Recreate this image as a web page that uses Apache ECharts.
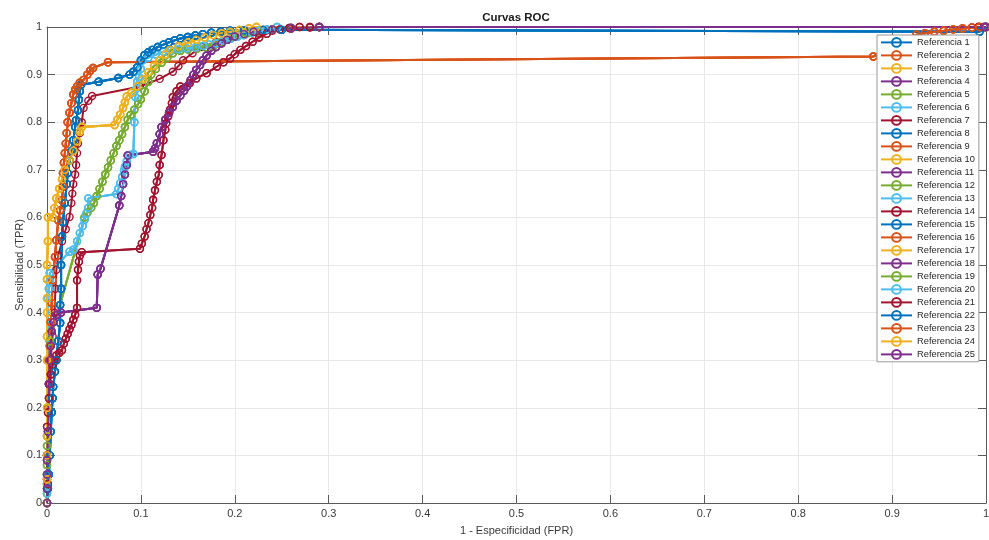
<!DOCTYPE html>
<html>
<head>
<meta charset="utf-8">
<title>Curvas ROC</title>
<script src="https://cdn.jsdelivr.net/npm/echarts@6/dist/echarts.min.js"></script>
<style>
  html, body { margin: 0; padding: 0; background: #fff; }
  #chart { width: 989px; height: 540px; }
</style>
</head>
<body>
<div id="chart"></div>
<script>
// ROC curves: [FPR, TPR]
const rocBlue = [
    [0, 0], [0.001, 0.03], [0.002, 0.06], [0.003, 0.1], [0.004, 0.15], [0.005, 0.19], [0.006, 0.22],
    [0.0066, 0.244], [0.0085, 0.276], [0.01, 0.3], [0.012, 0.34], [0.014, 0.378], [0.014, 0.416],
    [0.015, 0.45], [0.015, 0.5], [0.016, 0.56], [0.017, 0.59], [0.019, 0.63], [0.021, 0.67],
    [0.022, 0.693], [0.024, 0.72], [0.026, 0.74], [0.028, 0.762], [0.03, 0.79], [0.031, 0.804],
    [0.033, 0.825], [0.034, 0.847], [0.035, 0.865], [0.036, 0.878], [0.055, 0.885], [0.076, 0.893],
    [0.088, 0.9], [0.092, 0.906], [0.096, 0.915], [0.1, 0.93], [0.104, 0.941], [0.108, 0.947],
    [0.112, 0.952], [0.118, 0.958], [0.124, 0.963], [0.13, 0.968], [0.136, 0.972], [0.142, 0.976],
    [0.15, 0.979], [0.158, 0.982], [0.166, 0.985], [0.175, 0.988], [0.185, 0.99], [0.195, 0.992],
    [0.21, 0.993], [0.23, 0.994], [0.25, 0.994], [0.993, 0.99], [1, 1]
];
const rocOrange = [
    [0, 0], [0, 0.05], [0, 0.1], [0.001, 0.2], [0.002, 0.3], [0.003, 0.33], [0.004, 0.38], [0.005, 0.42],
    [0.006, 0.468], [0.0085, 0.517], [0.01, 0.552], [0.012, 0.594], [0.014, 0.615], [0.016, 0.636],
    [0.017, 0.665], [0.017, 0.693], [0.018, 0.715], [0.019, 0.735], [0.02, 0.755], [0.021, 0.777],
    [0.022, 0.8], [0.024, 0.82], [0.026, 0.84], [0.028, 0.858], [0.03, 0.868], [0.032, 0.875],
    [0.035, 0.883], [0.039, 0.889], [0.043, 0.9], [0.046, 0.908], [0.049, 0.914], [0.065, 0.926],
    [0.88, 0.938], [0.926, 0.984], [0.935, 0.987], [0.945, 0.99], [0.955, 0.992], [0.965, 0.995],
    [0.975, 0.997], [0.985, 0.999], [0.993, 1], [1, 1]
];
const rocYellow = [
    [0, 0], [0, 0.05], [0, 0.1], [0, 0.14], [0, 0.2], [0, 0.3], [0, 0.35], [0, 0.4], [0, 0.43],
    [0, 0.47], [0, 0.5], [0.001, 0.55], [0.001, 0.6], [0.006, 0.6], [0.008, 0.62], [0.01, 0.64],
    [0.013, 0.66], [0.016, 0.68], [0.019, 0.7], [0.024, 0.72], [0.028, 0.74], [0.032, 0.76],
    [0.035, 0.78], [0.037, 0.79], [0.072, 0.794], [0.075, 0.805], [0.078, 0.816], [0.081, 0.83],
    [0.083, 0.842], [0.085, 0.854], [0.09, 0.862], [0.096, 0.875], [0.102, 0.89], [0.108, 0.905],
    [0.114, 0.918], [0.12, 0.93], [0.126, 0.942], [0.131, 0.952], [0.14, 0.96], [0.15, 0.967],
    [0.159, 0.973], [0.168, 0.978], [0.177, 0.983], [0.186, 0.987], [0.195, 0.99], [0.205, 0.994],
    [0.215, 0.997], [0.223, 1], [1, 1]
];
const rocPurple = [
    [0, 0], [0, 0.03], [0, 0.06], [0, 0.09], [0.001, 0.15], [0.002, 0.25], [0.003, 0.3], [0.004, 0.33],
    [0.005, 0.36], [0.007, 0.38], [0.01, 0.395], [0.015, 0.4], [0.053, 0.41], [0.054, 0.48],
    [0.057, 0.492], [0.077, 0.625], [0.079, 0.645], [0.081, 0.67], [0.083, 0.69], [0.085, 0.71],
    [0.086, 0.73], [0.113, 0.738], [0.115, 0.745], [0.117, 0.756], [0.12, 0.775], [0.122, 0.79],
    [0.126, 0.805], [0.13, 0.82], [0.134, 0.832], [0.138, 0.845], [0.142, 0.856], [0.146, 0.866],
    [0.149, 0.875], [0.153, 0.888], [0.156, 0.9], [0.159, 0.91], [0.163, 0.92], [0.166, 0.93],
    [0.17, 0.94], [0.175, 0.95], [0.18, 0.958], [0.186, 0.966], [0.192, 0.973], [0.2, 0.98],
    [0.21, 0.985], [0.22, 0.99], [0.24, 0.995], [0.26, 0.998], [0.29, 1], [0.998, 1], [1, 1]
];
const rocGreen = [
    [0, 0], [0, 0.02], [0, 0.04], [0, 0.06], [0, 0.08], [0, 0.1], [0, 0.12], [0, 0.14], [0.002, 0.3],
    [0.003, 0.34], [0.04, 0.6], [0.043, 0.61], [0.047, 0.62], [0.05, 0.63], [0.053, 0.645],
    [0.056, 0.66], [0.059, 0.675], [0.062, 0.69], [0.065, 0.705], [0.068, 0.72], [0.071, 0.735],
    [0.074, 0.75], [0.077, 0.762], [0.08, 0.775], [0.083, 0.79], [0.086, 0.805], [0.089, 0.815],
    [0.093, 0.826], [0.097, 0.838], [0.1, 0.848], [0.104, 0.865], [0.108, 0.885], [0.111, 0.9],
    [0.116, 0.912], [0.122, 0.925], [0.128, 0.935], [0.134, 0.945], [0.142, 0.95], [0.15, 0.953],
    [0.16, 0.955], [0.17, 0.957], [0.177, 0.96], [0.185, 0.968], [0.195, 0.977], [0.205, 0.983],
    [0.213, 0.987], [0.225, 0.991], [0.24, 0.995], [0.26, 0.998], [0.29, 1], [1, 1]
];
const rocCyan = [
    [0, 0], [0, 0.02], [0, 0.04], [0, 0.06], [0.001, 0.2], [0.001, 0.43], [0.002, 0.45], [0.003, 0.465],
    [0.003, 0.483], [0.024, 0.528], [0.028, 0.532], [0.032, 0.55], [0.035, 0.567], [0.038, 0.582],
    [0.04, 0.595], [0.042, 0.608], [0.044, 0.62], [0.044, 0.64], [0.074, 0.649], [0.076, 0.66],
    [0.078, 0.672], [0.08, 0.685], [0.082, 0.698], [0.083, 0.706], [0.085, 0.718], [0.088, 0.731],
    [0.092, 0.733], [0.093, 0.8], [0.094, 0.853], [0.095, 0.87], [0.096, 0.885], [0.098, 0.895],
    [0.1, 0.912], [0.102, 0.93], [0.108, 0.936], [0.116, 0.942], [0.124, 0.948], [0.132, 0.951],
    [0.14, 0.953], [0.149, 0.955], [0.158, 0.957], [0.166, 0.96], [0.173, 0.963], [0.18, 0.966],
    [0.188, 0.971], [0.196, 0.976], [0.203, 0.98], [0.209, 0.983], [0.218, 0.988], [0.226, 0.992],
    [0.234, 0.995], [0.245, 1], [1, 1]
];
const rocRedLeft = [
    [0, 0], [0, 0.05], [0.001, 0.15], [0.002, 0.25], [0.004, 0.3], [0.006, 0.35], [0.008, 0.4],
    [0.009, 0.45], [0.01, 0.49], [0.012, 0.52], [0.016, 0.55], [0.02, 0.575], [0.024, 0.601],
    [0.026, 0.63], [0.027, 0.65], [0.028, 0.67], [0.03, 0.69], [0.031, 0.71], [0.032, 0.735],
    [0.033, 0.755], [0.035, 0.777], [0.037, 0.8], [0.039, 0.83], [0.044, 0.845], [0.048, 0.855],
    [0.099, 0.875], [0.12, 0.891], [0.134, 0.906], [0.14, 0.918], [0.145, 0.93], [0.155, 0.945],
    [0.165, 0.958], [0.18, 0.968], [0.195, 0.976], [0.21, 0.983], [0.225, 0.988], [0.24, 0.992],
    [0.26, 0.996], [0.28, 0.999], [0.29, 1], [0.992, 1], [1, 1]
];
const rocRedRight = [
    [0, 0], [0.001, 0.04], [0, 0.1], [0, 0.16], [0.001, 0.19], [0.002, 0.22], [0.003, 0.25],
    [0.004, 0.27], [0.006, 0.29], [0.008, 0.3], [0.01, 0.31], [0.013, 0.315], [0.016, 0.321],
    [0.018, 0.335], [0.02, 0.345], [0.022, 0.355], [0.024, 0.365], [0.026, 0.374], [0.028, 0.385],
    [0.03, 0.395], [0.032, 0.41], [0.032, 0.468], [0.033, 0.49], [0.034, 0.507], [0.035, 0.52],
    [0.037, 0.527], [0.099, 0.534], [0.101, 0.545], [0.104, 0.56], [0.106, 0.575], [0.108, 0.588],
    [0.11, 0.605], [0.112, 0.62], [0.113, 0.637], [0.115, 0.657], [0.117, 0.675], [0.119, 0.689],
    [0.12, 0.71], [0.122, 0.731], [0.124, 0.762], [0.126, 0.784], [0.127, 0.798], [0.129, 0.812],
    [0.131, 0.826], [0.133, 0.84], [0.134, 0.853], [0.138, 0.865], [0.142, 0.875], [0.152, 0.882],
    [0.159, 0.892], [0.17, 0.903], [0.181, 0.917], [0.188, 0.926], [0.195, 0.934], [0.2, 0.943],
    [0.206, 0.952], [0.212, 0.96], [0.219, 0.969], [0.226, 0.978], [0.234, 0.986], [0.248, 0.995],
    [0.258, 0.998], [0.269, 1], [0.28, 1], [0.29, 1], [0.992, 1], [1, 1]
];

const curves = {
    blue: rocBlue, orange: rocOrange, yellow: rocYellow, purple: rocPurple,
    green: rocGreen, cyan: rocCyan, redLeft: rocRedLeft, redRight: rocRedRight
};

// which curve each "Referencia N" follows (curves of the same colour overlap in the figure)
const refCurve = [
    "blue", "orange", "yellow", "purple", "green", "cyan", "redLeft",
    "blue", "orange", "yellow", "purple", "green", "cyan", "redRight",
    "blue", "orange", "yellow", "purple", "green", "cyan", "redRight",
    "blue", "orange", "yellow", "purple"
];
const refNames = refCurve.map((_, i) => "Referencia " + (i + 1));

const palette = ["#0072BD", "#D95319", "#EDB120", "#7E2F8E", "#77AC30", "#4DBEEE", "#A2142F"];
const font = "Liberation Sans, Arial, Helvetica, sans-serif";
const axisColor = "#5a5a5a";
const labelColor = "#3a3a3a";

const chart = echarts.init(document.getElementById("chart"), null, { renderer: "canvas" });

const boxAxis = {
    min: 0,
    max: 1,
    interval: 0.1,
    axisLine: { show: true, onZero: false, lineStyle: { color: axisColor, width: 1 } },
    axisTick: { show: true, inside: true, length: 8, lineStyle: { color: axisColor } },
    splitLine: { show: false },
    axisLabel: { show: false }
};

const mainAxis = (name, gap) => ({
    type: "value",
    min: 0,
    max: 1,
    interval: 0.1,
    name: name,
    nameLocation: "middle",
    nameGap: gap,
    nameMoveOverlap: false,
    nameTextStyle: { fontFamily: font, fontSize: 11, color: labelColor },
    axisLine: { show: true, onZero: false, lineStyle: { color: axisColor, width: 1 } },
    axisTick: { show: true, inside: true, length: 8, lineStyle: { color: axisColor } },
    axisLabel: { fontFamily: font, fontSize: 11, color: labelColor, margin: 5 },
    splitLine: { show: true, lineStyle: { color: "#e8e8e8", width: 1 } }
});

chart.setOption({
    animation: false,
    backgroundColor: "#fff",
    title: {
        text: "Curvas ROC",
        left: 516,
        top: 12,
        padding: 0,
        textAlign: "center",
        textStyle: { fontFamily: font, fontSize: 11.5, fontWeight: "bold", color: "#1a1a1a" }
    },
    legend: {
        data: refNames,
        orient: "vertical",
        left: 877,
        top: 35,
        padding: [2, 4, 2, 3],
        itemGap: 2.2,
        itemWidth: 31,
        itemHeight: 11,
        itemTextGap: 2,
        selectedMode: false,
        backgroundColor: "#fff",
        borderColor: "#9a9a9a",
        borderWidth: 1,
        textStyle: { fontFamily: font, fontSize: 9.3, color: "#262626" }
    },
    grid: { left: 47, right: 3, top: 27, bottom: 37, containLabel: false, outerBoundsMode: "none" },
    xAxis: [
        mainAxis("1 - Especificidad (FPR)", 22),
        Object.assign({ type: "value", position: "top" }, boxAxis)
    ],
    yAxis: [
        mainAxis("Sensibilidad (TPR)", 22),
        Object.assign({ type: "value", position: "right" }, boxAxis)
    ],
    series: refCurve.map((key, i) => {
        const color = palette[i % palette.length];
        return {
            name: refNames[i],
            type: "line",
            data: curves[key],
            xAxisIndex: 0,
            yAxisIndex: 0,
            clip: false,
            symbol: "circle",
            symbolSize: 7,
            showSymbol: true,
            showAllSymbol: true,
            lineStyle: { color: color, width: 2 },
            itemStyle: { color: "rgba(0,0,0,0)", borderColor: color, borderWidth: 1.4 },
            emphasis: { disabled: true },
            z: 2
        };
    })
});
</script>
</body>
</html>
